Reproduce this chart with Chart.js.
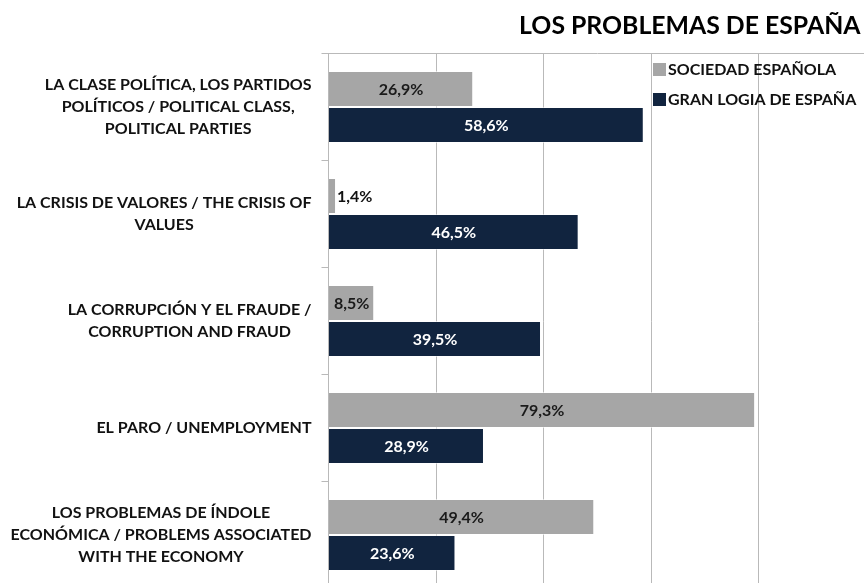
<!DOCTYPE html>
<html>
<head>
<meta charset="utf-8">
<script src="https://cdn.jsdelivr.net/npm/chart.js@4/dist/chart.umd.min.js"></script>
<style>
  html, body { margin: 0; padding: 0; background: #fff; overflow: hidden; }
</style>
</head>
<body>
<canvas id="problemas" width="868" height="590"></canvas>
<script>
// data
const chartTitle = 'LOS PROBLEMAS DE ESPAÑA';
const categories = [
    ['LA CLASE POLÍTICA, LOS PARTIDOS', 'POLÍTICOS / POLITICAL CLASS,', 'POLITICAL PARTIES'],
    ['LA CRISIS DE VALORES / THE CRISIS OF', 'VALUES'],
    ['LA CORRUPCIÓN Y EL FRAUDE /', 'CORRUPTION AND FRAUD'],
    ['EL PARO / UNEMPLOYMENT'],
    ['LOS PROBLEMAS DE ÍNDOLE', 'ECONÓMICA / PROBLEMS ASSOCIATED', 'WITH THE ECONOMY']
];
const seriesNames = ['SOCIEDAD ESPAÑOLA', 'GRAN LOGIA DE ESPAÑA'];
const sociedad = [26.9, 1.4, 8.5, 79.3, 49.4];
const granLogia = [58.6, 46.5, 39.5, 28.9, 23.6];

const FONT = 'Lato, "Open Sans", sans-serif';
const GRID = '#b9b9b9';

const fmt = v => v.toFixed(1).replace('.', ',') + '%';

// category labels, bar values, legend and title drawn on the canvas
const overlay = {
    id: 'overlay',
    afterDraw(chart) {
        const ctx = chart.ctx;
        const area = chart.chartArea;
        const yScale = chart.scales.y;
        ctx.save();
        ctx.textBaseline = 'middle';

        // category labels: block right aligned, lines centred in the block
        ctx.font = 'bold 16px ' + FONT;
        ctx.fillStyle = '#111';
        ctx.textAlign = 'center';
        chart.data.labels.forEach((lines, i) => {
            const cy = yScale.getPixelForValue(i);
            const w = Math.max(...lines.map(l => ctx.measureText(l).width));
            const cx = area.left - 17 - w / 2;
            lines.forEach((l, k) => {
                ctx.fillText(l, cx, cy + (k - (lines.length - 1) / 2) * 22);
            });
        });

        // value labels
        chart.data.datasets.forEach((ds, di) => {
            const meta = chart.getDatasetMeta(di);
            meta.data.forEach((bar, i) => {
                const txt = fmt(ds.data[i]);
                const w = ctx.measureText(txt).width;
                const len = bar.x - bar.base;
                if (w + 4 > len) {
                    ctx.textAlign = 'left';
                    ctx.fillStyle = '#111';
                    ctx.fillText(txt, bar.x + 1, bar.y + 1);
                } else {
                    ctx.textAlign = 'center';
                    ctx.fillStyle = ds.labelColor;
                    ctx.fillText(txt, (bar.x + bar.base) / 2, bar.y + 1);
                }
            });
        });

        // legend in the top right corner
        ctx.textAlign = 'left';
        chart.data.datasets.forEach((ds, di) => {
            const ly = area.top + 16 + di * 30;
            ctx.fillStyle = ds.backgroundColor;
            ctx.fillRect(area.right - 213.5, ly - 6.5, 13, 13);
            ctx.fillStyle = '#111';
            ctx.fillText(ds.label, area.right - 198.5, ly);
        });

        // title
        ctx.font = 'bold 24.8px ' + FONT;
        ctx.textAlign = 'right';
        ctx.fillStyle = '#000';
        ctx.fillText(chartTitle, area.right - 6, 26);

        ctx.restore();
    }
};

function drawChart() {
    const ctx = document.getElementById('problemas');
    new Chart(ctx, {
        type: 'bar',
        data: {
            labels: categories,
            datasets: [{
                label: seriesNames[0],
                data: sociedad,
                backgroundColor: '#a6a6a6',
                labelColor: '#1a1a1a',
                borderColor: 'rgba(255,255,255,0.55)',
                borderWidth: 1,
                borderSkipped: 'start'
            }, {
                label: seriesNames[1],
                data: granLogia,
                backgroundColor: '#11243f',
                labelColor: '#ffffff',
                borderColor: 'rgba(255,255,255,0.55)',
                borderWidth: 1,
                borderSkipped: 'start'
            }]
        },
        options: {
            indexAxis: 'y',
            responsive: false,
            animation: false,
            barPercentage: 1,
            categoryPercentage: 0.673,
            layout: {
                padding: { top: 53.5, right: 1.5, bottom: 1.5, left: 0 }
            },
            scales: {
                x: {
                    type: 'linear',
                    position: 'top',
                    min: 0,
                    max: 100,
                    ticks: { display: false, stepSize: 20 },
                    grid: { color: GRID, drawTicks: false },
                    border: { display: true, color: GRID }
                },
                y: {
                    type: 'category',
                    ticks: { display: false },
                    grid: {
                        offset: true,
                        drawOnChartArea: false,
                        drawTicks: true,
                        tickLength: 7,
                        color: GRID
                    },
                    border: { color: GRID },
                    afterFit(scale) {
                        scale.width = 328.5;
                    }
                }
            },
            plugins: {
                legend: { display: false },
                title: { display: false },
                tooltip: { enabled: false }
            }
        },
        plugins: [overlay]
    });
}

document.fonts.load('bold 16px Lato').then(drawChart, drawChart);
</script>
</body>
</html>
